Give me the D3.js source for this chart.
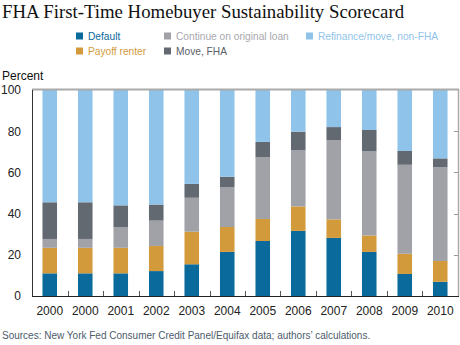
<!DOCTYPE html>
<html><head><meta charset="utf-8">
<script src="https://cdn.jsdelivr.net/npm/d3@7"></script>
<style>body{margin:0;background:#fff}svg{display:block}</style>
</head><body>
<script>
const categories = ["2000","2000","2001","2002","2003","2004","2005","2006","2007","2008","2009","2010"];
const seriesNames = ["Default","Payoff renter","Continue on original loan","Move, FHA","Refinance/move, non-FHA"];
const defaultV  = [11.0,11.0,11.0,12.1,15.4,21.4,26.7,31.6,28.2,21.4,10.7,6.9];
const payoffV   = [12.4,12.4,12.4,12.2,15.8,12.1,10.7,11.9,9.0,8.0,9.8,10.1];
const continueV = [4.3,4.3,10.1,12.3,16.5,19.4,29.9,27.2,38.5,40.8,43.2,45.5];
const moveV     = [17.8,17.8,10.5,7.8,6.7,5.0,7.5,9.1,6.3,10.4,6.7,4.3];
const refiV     = [54.5,54.5,56.0,55.6,45.6,42.1,25.2,20.2,18.0,19.4,29.6,33.2];
const yTicks = [0,20,40,60,80,100];
const colors = ["#0b6a9c","#d39a3c","#a1a1a8","#636971","#8fc3ea"];

const W=460,H=345;
const svg=d3.select("body").append("svg").attr("width",W).attr("height",H);
const m={l:32,r:458,t:90,b:296};
const rows = categories.map((c,i)=>({i:i,cat:c,s0:defaultV[i],s1:payoffV[i],s2:continueV[i],s3:moveV[i],s4:refiV[i]}));
const stack=d3.stack().keys(["s0","s1","s2","s3","s4"])(rows);
const x=d3.scaleBand().domain(d3.range(categories.length)).range([m.l,m.r]).paddingInner(0.59).paddingOuter(0.295);
const y=d3.scaleLinear().domain([0,100]).range([m.b,m.t]);

svg.append("text").attr("x",2).attr("y",18).attr("font-family","Liberation Serif, DejaVu Serif, serif")
  .attr("font-size",18.8).attr("fill","#111").text("FHA First-Time Homebuyer Sustainability Scorecard");

// legend
const leg=[{k:0,x:76,y:36},{k:2,x:164,y:36},{k:4,x:306,y:36},{k:1,x:76,y:51},{k:3,x:164,y:51}];
const legText=["#0b6a9c","#d39a3c","#a8a8ae","#5b6068","#8fc3ea"];
leg.forEach(d=>{
  svg.append("rect").attr("x",d.x).attr("y",d.y-3.5).attr("width",7).attr("height",7).attr("fill",colors[d.k]);
  svg.append("text").attr("x",d.x+12).attr("y",d.y+4).attr("font-family","Liberation Sans, Arial, sans-serif")
    .attr("font-size",10.2).attr("fill",legText[d.k]).text(seriesNames[d.k]);
});

svg.append("text").attr("x",2).attr("y",80).attr("font-family","Liberation Sans, Arial, sans-serif")
  .attr("font-size",12).attr("fill","#111").text("Percent");

// bars
svg.append("g").selectAll("g").data(stack).join("g").attr("fill",(d,i)=>colors[i])
  .selectAll("rect").data(d=>d).join("rect")
  .attr("x",d=>x(d.data.i)).attr("width",x.bandwidth())
  .attr("y",d=>y(d[1])).attr("height",d=>y(d[0])-y(d[1]));

// frame
svg.append("line").attr("x1",m.l).attr("x2",m.r+1).attr("y1",m.t-0.5).attr("y2",m.t-0.5).attr("stroke","#aaa").attr("stroke-width",2);
svg.append("line").attr("x1",m.r+0.5).attr("x2",m.r+0.5).attr("y1",m.t-1).attr("y2",m.b).attr("stroke","#aaa").attr("stroke-width",1.5);
svg.append("line").attr("x1",m.l+0.5).attr("x2",m.l+0.5).attr("y1",m.t).attr("y2",m.b).attr("stroke","#333").attr("stroke-width",1);

// right ticks
yTicks.filter(t=>t>0&&t<100).forEach(t=>{
  svg.append("line").attr("x1",m.r-4).attr("x2",m.r).attr("y1",Math.round(y(t))+0.5).attr("y2",Math.round(y(t))+0.5).attr("stroke","#999");
});

// left axis labels
const ya=svg.append("g").attr("transform",`translate(${m.l},0)`).call(d3.axisLeft(y).tickValues(yTicks).tickSize(0).tickPadding(11));
ya.select(".domain").remove();
ya.selectAll("text").attr("font-family","Liberation Sans, Arial, sans-serif").attr("font-size",12).attr("fill","#222");

// bottom axis
const step=x.step();
const xa=svg.append("g").attr("transform",`translate(0,${m.b})`)
  .call(d3.axisBottom(x).tickFormat(i=>categories[i]).tickSize(0).tickPadding(10));
xa.select(".domain").remove();
xa.selectAll("text").attr("font-family","Liberation Sans, Arial, sans-serif").attr("font-size",12).attr("fill","#222");
d3.range(1,categories.length).forEach(i=>{
  const xv=Math.round(x(i)-(step-x.bandwidth())/2)+0.5;
  svg.append("line").attr("x1",xv).attr("x2",xv).attr("y1",m.b-5).attr("y2",m.b).attr("stroke","#555");
});
svg.append("line").attr("x1",m.l).attr("x2",m.r+1).attr("y1",m.b+0.5).attr("y2",m.b+0.5).attr("stroke","#222").attr("stroke-width",1);

svg.append("text").attr("x",2).attr("y",339).attr("font-family","Liberation Sans, Arial, sans-serif")
  .attr("font-size",10).attr("fill","#4d5b6b").text("Sources: New York Fed Consumer Credit Panel/Equifax data; authors\u2019 calculations.");
</script>
</body></html>
